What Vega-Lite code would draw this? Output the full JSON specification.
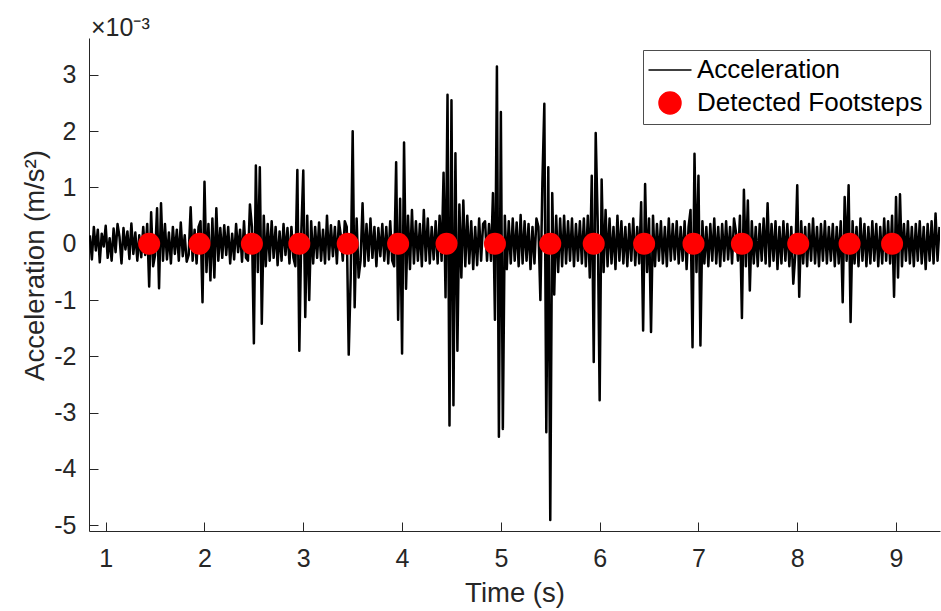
{
"$schema": "https://vega.github.io/schema/vega-lite/v6.json",
"width": 851, "height": 493,
"autosize": {"type": "none"},
"padding": {"left": 89, "top": 38, "right": 1, "bottom": 80},
"background": "white",
"config": {
 "view": {"stroke": null},
 "font": "Liberation Sans",
 "axis": {"domainColor": "#262626", "tickColor": "#262626", "labelColor": "#262626", "titleColor": "#262626", "labelFont": "Liberation Sans", "titleFont": "Liberation Sans", "labelFontSize": 25, "titleFontSize": 27.5, "titleFontWeight": "normal", "grid": false, "domainWidth": 1, "tickWidth": 1, "labelFlush": false, "labelOverlap": false}
},
"title": {"text": "×10⁻³", "anchor": "start", "frame": "group", "fontSize": 25, "fontWeight": "normal", "color": "#262626", "font": "Liberation Sans", "baseline": "alphabetic", "offset": 5, "dx": 2, "dy": 28},
"datasets": {
"acc": [
{"t":0.84,"a":0.15},{"t":0.86,"a":-0.28},{"t":0.88,"a":0.30},{"t":0.90,"a":-0.12},{"t":0.92,"a":0.25},{"t":0.94,"a":-0.33},{"t":0.96,"a":0.18},{"t":0.98,"a":-0.05},{"t":1.00,"a":0.32},{"t":1.02,"a":-0.25},
{"t":1.04,"a":0.10},{"t":1.06,"a":-0.30},{"t":1.08,"a":0.27},{"t":1.10,"a":-0.15},{"t":1.12,"a":0.35},{"t":1.14,"a":0.12},{"t":1.16,"a":-0.35},{"t":1.18,"a":0.28},{"t":1.20,"a":-0.10},{"t":1.22,"a":0.22},
{"t":1.24,"a":-0.27},{"t":1.26,"a":0.36},{"t":1.28,"a":-0.18},{"t":1.30,"a":0.20},{"t":1.32,"a":-0.30},{"t":1.34,"a":0.15},{"t":1.36,"a":-0.24},{"t":1.38,"a":0.30},{"t":1.40,"a":-0.20},{"t":1.42,"a":0.35},
{"t":1.44,"a":-0.76},{"t":1.46,"a":0.56},{"t":1.48,"a":-0.40},{"t":1.50,"a":-0.20},{"t":1.52,"a":0.63},{"t":1.54,"a":-0.79},{"t":1.56,"a":0.72},{"t":1.58,"a":-0.30},{"t":1.60,"a":0.35},{"t":1.62,"a":-0.28},
{"t":1.64,"a":0.20},{"t":1.66,"a":-0.35},{"t":1.68,"a":0.30},{"t":1.70,"a":-0.18},{"t":1.72,"a":0.25},{"t":1.74,"a":-0.30},{"t":1.76,"a":0.38},{"t":1.78,"a":-0.22},{"t":1.80,"a":0.15},{"t":1.82,"a":-0.32},
{"t":1.84,"a":-0.20},{"t":1.86,"a":0.65},{"t":1.88,"a":-0.30},{"t":1.90,"a":0.25},{"t":1.92,"a":-0.35},{"t":1.94,"a":0.30},{"t":1.96,"a":0.40},{"t":1.98,"a":-1.04},{"t":2.00,"a":1.10},{"t":2.02,"a":-0.50},
{"t":2.04,"a":0.35},{"t":2.06,"a":-0.65},{"t":2.08,"a":0.45},{"t":2.10,"a":-0.60},{"t":2.12,"a":0.63},{"t":2.14,"a":-0.30},{"t":2.16,"a":0.28},{"t":2.18,"a":-0.25},{"t":2.20,"a":0.33},{"t":2.22,"a":-0.20},
{"t":2.24,"a":0.30},{"t":2.26,"a":-0.35},{"t":2.28,"a":0.18},{"t":2.30,"a":-0.28},{"t":2.32,"a":0.35},{"t":2.34,"a":-0.15},{"t":2.36,"a":0.25},{"t":2.38,"a":-0.32},{"t":2.40,"a":0.40},{"t":2.42,"a":-0.25},
{"t":2.44,"a":-0.30},{"t":2.46,"a":0.70},{"t":2.48,"a":0.30},{"t":2.50,"a":-1.77},{"t":2.52,"a":1.39},{"t":2.54,"a":-0.50},{"t":2.56,"a":1.36},{"t":2.58,"a":-1.42},{"t":2.60,"a":0.50},{"t":2.62,"a":-0.40},
{"t":2.64,"a":0.35},{"t":2.66,"a":-0.30},{"t":2.68,"a":0.40},{"t":2.70,"a":-0.25},{"t":2.72,"a":0.30},{"t":2.74,"a":-0.38},{"t":2.76,"a":0.22},{"t":2.78,"a":-0.30},{"t":2.80,"a":0.35},{"t":2.82,"a":-0.20},
{"t":2.84,"a":0.28},{"t":2.86,"a":-0.35},{"t":2.88,"a":0.30},{"t":2.90,"a":-0.25},{"t":2.92,"a":-0.40},{"t":2.94,"a":1.31},{"t":2.96,"a":-1.90},{"t":2.98,"a":0.20},{"t":3.00,"a":1.30},{"t":3.02,"a":-1.30},
{"t":3.04,"a":0.50},{"t":3.06,"a":-1.00},{"t":3.08,"a":0.40},{"t":3.10,"a":-0.35},{"t":3.12,"a":0.30},{"t":3.14,"a":-0.25},{"t":3.16,"a":0.38},{"t":3.18,"a":-0.30},{"t":3.20,"a":0.25},{"t":3.22,"a":-0.35},
{"t":3.24,"a":0.50},{"t":3.26,"a":-0.28},{"t":3.28,"a":0.33},{"t":3.30,"a":-0.22},{"t":3.32,"a":0.30},{"t":3.34,"a":-0.35},{"t":3.36,"a":0.40},{"t":3.38,"a":0.15},{"t":3.40,"a":-0.30},{"t":3.42,"a":0.40},
{"t":3.44,"a":0.30},{"t":3.46,"a":-1.97},{"t":3.48,"a":-0.60},{"t":3.50,"a":2.00},{"t":3.52,"a":-1.13},{"t":3.54,"a":0.45},{"t":3.56,"a":-0.60},{"t":3.58,"a":-0.30},{"t":3.60,"a":0.72},{"t":3.62,"a":-0.40},
{"t":3.64,"a":0.35},{"t":3.66,"a":-0.30},{"t":3.68,"a":0.45},{"t":3.70,"a":-0.25},{"t":3.72,"a":0.30},{"t":3.74,"a":-0.40},{"t":3.76,"a":0.28},{"t":3.78,"a":-0.22},{"t":3.80,"a":0.35},{"t":3.82,"a":-0.30},
{"t":3.84,"a":0.30},{"t":3.86,"a":-0.35},{"t":3.88,"a":0.40},{"t":3.90,"a":-0.30},{"t":3.92,"a":-0.40},{"t":3.94,"a":1.45},{"t":3.96,"a":-1.35},{"t":3.98,"a":0.80},{"t":4.00,"a":-1.95},{"t":4.02,"a":1.80},
{"t":4.04,"a":-0.80},{"t":4.06,"a":0.50},{"t":4.08,"a":-0.45},{"t":4.10,"a":0.60},{"t":4.12,"a":-0.35},{"t":4.14,"a":0.40},{"t":4.16,"a":-0.30},{"t":4.18,"a":0.35},{"t":4.20,"a":-0.40},{"t":4.22,"a":0.60},
{"t":4.24,"a":-0.30},{"t":4.26,"a":0.45},{"t":4.28,"a":-0.35},{"t":4.30,"a":0.30},{"t":4.32,"a":-0.28},{"t":4.34,"a":0.40},{"t":4.36,"a":-0.35},{"t":4.38,"a":0.50},{"t":4.40,"a":-0.30},{"t":4.42,"a":1.26},
{"t":4.44,"a":-0.95},{"t":4.46,"a":2.65},{"t":4.48,"a":-3.23},{"t":4.50,"a":2.55},{"t":4.52,"a":-2.87},{"t":4.54,"a":1.61},{"t":4.56,"a":-1.90},{"t":4.58,"a":0.70},{"t":4.60,"a":-0.60},{"t":4.62,"a":0.77},
{"t":4.64,"a":-0.40},{"t":4.66,"a":0.50},{"t":4.68,"a":-0.35},{"t":4.70,"a":0.40},{"t":4.72,"a":-0.45},{"t":4.74,"a":0.30},{"t":4.76,"a":-0.38},{"t":4.78,"a":0.45},{"t":4.80,"a":-0.30},{"t":4.82,"a":0.35},
{"t":4.84,"a":0.40},{"t":4.86,"a":-0.30},{"t":4.88,"a":0.35},{"t":4.90,"a":-0.30},{"t":4.92,"a":0.90},{"t":4.94,"a":-1.35},{"t":4.96,"a":3.15},{"t":4.98,"a":-3.43},{"t":5.00,"a":2.34},{"t":5.02,"a":-3.29},
{"t":5.04,"a":0.50},{"t":5.06,"a":-0.45},{"t":5.08,"a":0.40},{"t":5.10,"a":-0.35},{"t":5.12,"a":0.45},{"t":5.14,"a":-0.30},{"t":5.16,"a":0.38},{"t":5.18,"a":-0.40},{"t":5.20,"a":0.51},{"t":5.22,"a":-0.35},
{"t":5.24,"a":0.40},{"t":5.26,"a":-0.30},{"t":5.28,"a":0.35},{"t":5.30,"a":-0.45},{"t":5.32,"a":0.30},{"t":5.34,"a":-0.35},{"t":5.36,"a":0.45},{"t":5.38,"a":0.30},{"t":5.40,"a":-1.00},{"t":5.42,"a":1.07},
{"t":5.44,"a":2.49},{"t":5.46,"a":-3.35},{"t":5.48,"a":1.36},{"t":5.50,"a":-4.91},{"t":5.52,"a":0.90},{"t":5.54,"a":-0.90},{"t":5.56,"a":0.50},{"t":5.58,"a":-0.50},{"t":5.60,"a":0.45},{"t":5.62,"a":-0.40},
{"t":5.64,"a":0.50},{"t":5.66,"a":-0.35},{"t":5.68,"a":0.40},{"t":5.70,"a":-0.30},{"t":5.72,"a":0.45},{"t":5.74,"a":-0.40},{"t":5.76,"a":0.35},{"t":5.78,"a":-0.30},{"t":5.80,"a":0.40},{"t":5.82,"a":-0.35},
{"t":5.84,"a":0.45},{"t":5.86,"a":-0.40},{"t":5.88,"a":0.50},{"t":5.90,"a":-0.60},{"t":5.92,"a":1.21},{"t":5.94,"a":-2.10},{"t":5.96,"a":1.97},{"t":5.98,"a":0.40},{"t":6.00,"a":-2.78},{"t":6.02,"a":1.14},
{"t":6.04,"a":-0.50},{"t":6.06,"a":0.60},{"t":6.08,"a":-0.40},{"t":6.10,"a":0.45},{"t":6.12,"a":-0.35},{"t":6.14,"a":0.30},{"t":6.16,"a":-0.45},{"t":6.18,"a":0.50},{"t":6.20,"a":-0.30},{"t":6.22,"a":0.40},
{"t":6.24,"a":-0.35},{"t":6.26,"a":0.30},{"t":6.28,"a":-0.40},{"t":6.30,"a":0.35},{"t":6.32,"a":-0.30},{"t":6.34,"a":0.45},{"t":6.36,"a":-0.38},{"t":6.38,"a":0.30},{"t":6.40,"a":-0.35},{"t":6.42,"a":0.74},
{"t":6.44,"a":-1.54},{"t":6.46,"a":1.06},{"t":6.48,"a":-0.50},{"t":6.50,"a":0.45},{"t":6.52,"a":-1.57},{"t":6.54,"a":0.50},{"t":6.56,"a":-0.40},{"t":6.58,"a":0.35},{"t":6.60,"a":-0.30},{"t":6.62,"a":0.40},
{"t":6.64,"a":-0.35},{"t":6.66,"a":0.30},{"t":6.68,"a":-0.40},{"t":6.70,"a":0.45},{"t":6.72,"a":-0.30},{"t":6.74,"a":0.35},{"t":6.76,"a":-0.28},{"t":6.78,"a":0.40},{"t":6.80,"a":-0.35},{"t":6.82,"a":0.30},
{"t":6.84,"a":-0.30},{"t":6.86,"a":0.40},{"t":6.88,"a":-0.45},{"t":6.90,"a":0.30},{"t":6.92,"a":0.60},{"t":6.94,"a":-1.84},{"t":6.96,"a":1.60},{"t":6.98,"a":-0.50},{"t":7.00,"a":1.21},{"t":7.02,"a":-1.81},
{"t":7.04,"a":0.40},{"t":7.06,"a":-0.35},{"t":7.08,"a":0.30},{"t":7.10,"a":-0.40},{"t":7.12,"a":0.35},{"t":7.14,"a":-0.30},{"t":7.16,"a":0.45},{"t":7.18,"a":-0.35},{"t":7.20,"a":0.30},{"t":7.22,"a":-0.40},
{"t":7.24,"a":0.35},{"t":7.26,"a":-0.30},{"t":7.28,"a":0.40},{"t":7.30,"a":-0.28},{"t":7.32,"a":0.30},{"t":7.34,"a":-0.35},{"t":7.36,"a":0.45},{"t":7.38,"a":0.20},{"t":7.40,"a":-0.30},{"t":7.42,"a":0.50},
{"t":7.44,"a":-1.32},{"t":7.46,"a":0.96},{"t":7.48,"a":-0.40},{"t":7.50,"a":0.77},{"t":7.52,"a":-0.83},{"t":7.54,"a":0.40},{"t":7.56,"a":-0.35},{"t":7.58,"a":0.30},{"t":7.60,"a":-0.40},{"t":7.62,"a":0.35},
{"t":7.64,"a":-0.30},{"t":7.66,"a":0.45},{"t":7.68,"a":-0.35},{"t":7.70,"a":0.72},{"t":7.72,"a":-0.40},{"t":7.74,"a":0.35},{"t":7.76,"a":-0.30},{"t":7.78,"a":0.40},{"t":7.80,"a":-0.45},{"t":7.82,"a":0.30},
{"t":7.84,"a":-0.35},{"t":7.86,"a":0.40},{"t":7.88,"a":-0.30},{"t":7.90,"a":0.35},{"t":7.92,"a":-0.40},{"t":7.94,"a":0.30},{"t":7.96,"a":-0.71},{"t":7.98,"a":-0.20},{"t":8.00,"a":1.04},{"t":8.02,"a":-0.94},
{"t":8.04,"a":0.40},{"t":8.06,"a":-0.35},{"t":8.08,"a":0.30},{"t":8.10,"a":-0.40},{"t":8.12,"a":0.35},{"t":8.14,"a":-0.30},{"t":8.16,"a":0.45},{"t":8.18,"a":-0.35},{"t":8.20,"a":0.30},{"t":8.22,"a":-0.40},
{"t":8.24,"a":0.35},{"t":8.26,"a":-0.30},{"t":8.28,"a":0.40},{"t":8.30,"a":-0.35},{"t":8.32,"a":0.30},{"t":8.34,"a":-0.30},{"t":8.36,"a":0.35},{"t":8.38,"a":-0.40},{"t":8.40,"a":0.30},{"t":8.42,"a":-0.35},
{"t":8.44,"a":0.40},{"t":8.46,"a":-1.04},{"t":8.48,"a":0.83},{"t":8.50,"a":-0.30},{"t":8.52,"a":1.04},{"t":8.54,"a":-1.39},{"t":8.56,"a":0.40},{"t":8.58,"a":-0.35},{"t":8.60,"a":0.30},{"t":8.62,"a":-0.40},
{"t":8.64,"a":0.45},{"t":8.66,"a":-0.30},{"t":8.68,"a":0.35},{"t":8.70,"a":-0.40},{"t":8.72,"a":0.30},{"t":8.74,"a":-0.35},{"t":8.76,"a":0.40},{"t":8.78,"a":-0.30},{"t":8.80,"a":0.35},{"t":8.82,"a":-0.40},
{"t":8.84,"a":0.30},{"t":8.86,"a":-0.35},{"t":8.88,"a":0.45},{"t":8.90,"a":-0.30},{"t":8.92,"a":0.40},{"t":8.94,"a":-0.35},{"t":8.96,"a":0.50},{"t":8.98,"a":-0.94},{"t":9.00,"a":0.83},{"t":9.02,"a":-0.60},
{"t":9.04,"a":0.88},{"t":9.06,"a":-0.40},{"t":9.08,"a":0.35},{"t":9.10,"a":-0.30},{"t":9.12,"a":0.40},{"t":9.14,"a":-0.35},{"t":9.16,"a":0.30},{"t":9.18,"a":-0.40},{"t":9.20,"a":0.35},{"t":9.22,"a":-0.30},
{"t":9.24,"a":0.40},{"t":9.26,"a":-0.35},{"t":9.28,"a":0.30},{"t":9.30,"a":-0.45},{"t":9.32,"a":0.35},{"t":9.34,"a":-0.30},{"t":9.36,"a":0.40},{"t":9.38,"a":-0.35},{"t":9.40,"a":0.54},{"t":9.42,"a":-0.30},
{"t":9.44,"a":0.30}
],
"steps": [
{"t":1.44,"a":0},{"t":1.95,"a":0},{"t":2.48,"a":0},{"t":2.96,"a":0},{"t":3.45,"a":0},{"t":3.96,"a":0},{"t":4.45,"a":0},{"t":4.94,"a":0},
{"t":5.50,"a":0},{"t":5.94,"a":0},{"t":6.45,"a":0},{"t":6.95,"a":0},{"t":7.44,"a":0},{"t":8.01,"a":0},{"t":8.53,"a":0},{"t":8.96,"a":0}
]
},
"encoding": {
 "x": {"field": "t", "type": "quantitative", "scale": {"domain": [0.831, 9.445], "nice": false, "zero": false},
   "axis": {"values": [1,2,3,4,5,6,7,8,9], "labelExpr": "datum.value + ''", "title": "Time (s)", "tickSize": -9, "labelPadding": 24, "titleBaseline": "alphabetic", "titleY": 70.5}},
 "y": {"field": "a", "type": "quantitative", "scale": {"domain": [-5.105, 3.657], "nice": false, "zero": false},
   "axis": {"values": [-5,-4,-3,-2,-1,0,1,2,3], "labelExpr": "datum.value + ''", "title": "Acceleration (m/s²)", "tickSize": -9, "labelPadding": 22, "titleX": -46, "titleY": 227, "titleBaseline": "alphabetic"}}
},
"layer": [
 {"data": {"name": "acc"},
  "mark": {"type": "line", "strokeWidth": 2.5, "strokeJoin": "round", "clip": true},
  "encoding": {"color": {"datum": "Acceleration", "type": "nominal",
     "scale": {"domain": ["Acceleration", "Detected Footsteps"], "range": ["#000000", "#ff0000"]},
     "legend": {"title": null, "orient": "none", "legendX": 554, "legendY": 12, "padding": 7, "strokeColor": "#4d4d4d", "fillColor": "white",
       "labelFontSize": 26, "labelFont": "Liberation Sans", "labelColor": "#000000", "labelLimit": 0, "symbolSize": 484, "symbolOffset": 7, "labelOffset": 14, "rowPadding": 6,
       "encode": {"symbols": {"update": {
          "shape": {"signal": "datum.value === 'Acceleration' ? 'stroke' : 'circle'"},
          "size": {"signal": "datum.value === 'Acceleration' ? 1849 : 484"},
          "fill": {"signal": "datum.value === 'Acceleration' ? 'transparent' : '#ff0000'"},
          "stroke": {"signal": "datum.value === 'Acceleration' ? '#000000' : 'transparent'"},
          "strokeWidth": {"value": 1.5},
          "opacity": {"value": 1}}}}}}}},
 {"data": {"name": "steps"},
  "mark": {"type": "point", "filled": true, "size": 484, "opacity": 1},
  "encoding": {"color": {"datum": "Detected Footsteps", "type": "nominal"}}}
]
}
